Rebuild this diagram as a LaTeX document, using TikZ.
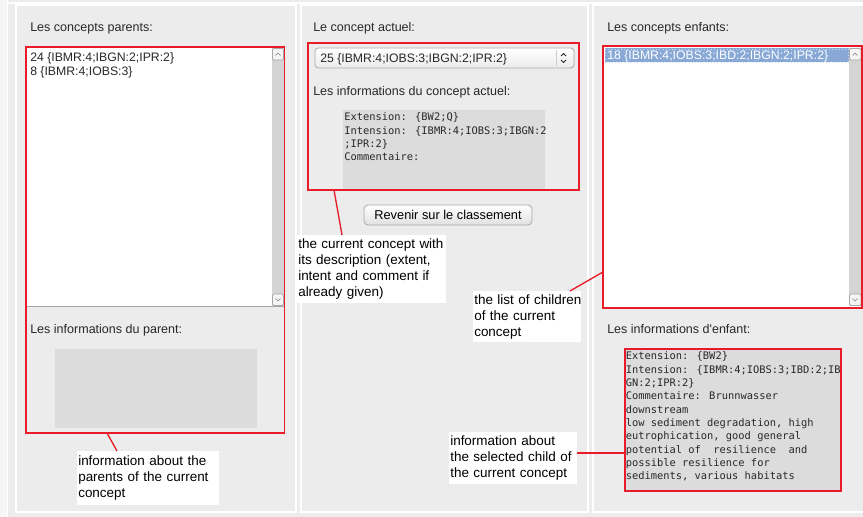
\documentclass[tikz,border=0pt]{standalone}
\usepackage{fontspec}
\setmainfont{Liberation Sans}
\newfontfamily\uimono{DejaVu Sans Mono}
\usetikzlibrary{positioning}

\definecolor{panelgray}{RGB}{236,236,236}
\definecolor{areagray}{RGB}{220,220,220}
\definecolor{trackgray}{RGB}{212,212,212}
\definecolor{markred}{RGB}{232,28,40}
\definecolor{selblue}{RGB}{136,168,214}
\definecolor{uitext}{RGB}{40,40,40}
\definecolor{frameborder}{RGB}{168,168,168}

\tikzset{
  redbox/.style = {draw = markred, line width = 1.2pt},
  callout/.style = {draw = markred, line width = 1pt},
  uilabel/.style = {anchor = base west, inner sep = 0pt, text = uitext,
    font = \fontsize{9.4}{11}\selectfont},
  listitem/.style = {anchor = base west, inner sep = 0pt, text = uitext,
    font = \fontsize{9.2}{11}\selectfont},
  monotext/.style = {anchor = north west, inner sep = 0pt, align = left,
    text = uitext, font = \uimono\fontsize{7.8}{10}\selectfont},
  note/.style = {fill = white, anchor = north west, inner xsep = 0.75pt,
    inner ysep = 0pt, align = left, text = black,
    font = \fontsize{10.1}{12}\selectfont},
  scrollbtn/.style = {draw = frameborder, fill = white!96!black,
    rounded corners = 1pt, line width = 0.5pt},
}
\newcommand{\noteline}[1]{\mbox{#1}}

\begin{document}
\begin{tikzpicture}[x = 0.75pt, y = -0.75pt]
    \useasboundingbox (0, 0) rectangle (863, 517);
    \fill[panelgray] (0, 0) rectangle (863, 517);
    \fill[white!50!panelgray] (0, 0) rectangle (7, 517);

    % frames of the three panels
    \begin{scope}[every path/.style = {draw = white, line width = 1.1pt}]
      \draw (7.5, 0) -- (7.5, 517);
      \draw (7.5, 3) -- (863, 3);
      \draw (16, 5) rectangle (296, 512);
      \draw (301, 5) rectangle (588, 512);
      \draw (593, 5) rectangle (880, 512);
    \end{scope}

    % parents
    \node[uilabel] (P0) at (30, 32) {Les concepts parents:};
    \fill[white] (27, 48) rectangle (284, 306);
    \draw[frameborder, line width = 0.6pt] (27, 306) -- (284, 306);
    \fill[trackgray] (272, 48) rectangle (283.5, 306);
    \draw[scrollbtn] (272.5, 48.5) rectangle (283.5, 60);
    \draw[scrollbtn] (272.5, 294) rectangle (283.5, 305.5);
    \draw[gray, line width = 0.5pt] (275.5, 55.5) -- (278, 53) -- (280.5, 55.5);
    \draw[gray, line width = 0.5pt] (275.5, 298.5) -- (278, 301) -- (280.5, 298.5);
    \node[listitem] (P1) at (30, 61) {24 \{IBMR:4;IBGN:2;IPR:2\}};
    \node[listitem] (P2) at (30, 75) {8 \{IBMR:4;IOBS:3\}};
    \node[uilabel] (P3) at (30, 333) {Les informations du parent:};
    \fill[areagray] (55, 349) rectangle (257, 428);
    \draw[redbox] (26, 47) rectangle (284.5, 433);

    % current concept
    \node[uilabel] (C0) at (313, 32) {Le concept actuel:};
    \draw[frameborder, top color = white, bottom color = white!92!black,
      rounded corners = 2.5pt, line width = 0.6pt] (315, 48) rectangle (574, 68);
    \draw[white!80!black, line width = 0.6pt] (556, 50) -- (556, 66);
    \draw[uitext, line width = 0.6pt] (561, 56) -- (563.5, 53.5) -- (566, 56);
    \draw[uitext, line width = 0.6pt] (561, 60) -- (563.5, 62.5) -- (566, 60);
    \node[listitem] (C1) at (320, 63) {25 \{IBMR:4;IOBS:3;IBGN:2;IPR:2\}};
    \node[uilabel] (C2) at (313, 95) {Les informations du concept actuel:};
    \fill[areagray] (343, 110) rectangle (545, 190);
    \node[monotext] (C3) at (344, 112.5) {Extension: \{BW2;Q\}\\
      Intension: \{IBMR:4;IOBS:3;IBGN:2\\
      ;IPR:2\}\\
      Commentaire:};
    \draw[redbox] (308, 43) rectangle (579, 190);
    \draw[frameborder, top color = white, bottom color = white!88!black,
      rounded corners = 3pt, line width = 0.6pt] (364, 205) rectangle (532, 225);
    \node[inner sep = 0pt, text = black, font = \fontsize{9.6}{11}\selectfont]
      (C4) at (448, 215) {Revenir sur le classement};

    % children
    \node[uilabel] (E0) at (607, 32) {Les concepts enfants:};
    \fill[white] (604, 47) rectangle (861, 307);
    \fill[trackgray] (849, 48) rectangle (861, 306);
    \draw[scrollbtn] (849.5, 48.5) rectangle (861, 60);
    \draw[scrollbtn] (849.5, 294) rectangle (861, 305.5);
    \draw[gray, line width = 0.5pt] (852.5, 55.5) -- (855, 53) -- (857.5, 55.5);
    \draw[gray, line width = 0.5pt] (852.5, 298.5) -- (855, 301) -- (857.5, 298.5);
    \fill[selblue] (605, 48.5) rectangle (849, 62.5);
    \draw[white!60!selblue, dotted, line width = 0.4pt] (605.5, 49) rectangle (848.5, 62);
    \node[listitem, text = white] (E1) at (607, 59.5)
      {18 \{IBMR:4;IOBS:3;IBD:2;IBGN:2;IPR:2\}};
    \draw[redbox] (603, 46) rectangle (862, 308);
    \node[uilabel] (E2) at (607, 333) {Les informations d\textquotesingle enfant:};
    \fill[areagray] (625, 349) rectangle (841, 491);
    \node[monotext] (E3) at (625.5, 351.5) {Extension: \{BW2\}\\
      Intension: \{IBMR:4;IOBS:3;IBD:2;IB\\
      GN:2;IPR:2\}\\
      Commentaire: Brunnwasser\\
      downstream\\
      low sediment degradation, high\\
      eutrophication, good general\\
      potential of~~resilience~~and\\
      possible resilience for\\
      sediments, various habitats};
    \draw[redbox] (625, 349) rectangle (841, 491);

    % notes
    \node[note, text width = 105pt, minimum height = 40.5pt] (N1) at (77, 451)
      {\noteline{information about the}\\ \noteline{parents of the current}\\
       \noteline{concept}};
    \node[note, text width = 110.25pt, minimum height = 51pt] (N2) at (297, 235)
      {\noteline{the current concept with}\\ \noteline{its description (extent,}\\
       \noteline{intent and comment if}\\ \noteline{already given)}};
    \node[note, text width = 79.5pt, minimum height = 38.25pt] (N3) at (473, 291)
      {\noteline{the list of children}\\ \noteline{of the current}\\
       \noteline{concept}};
    \node[note, text width = 94.5pt, minimum height = 39pt] (N4) at (449, 432)
      {\noteline{information about}\\ \noteline{the selected child of}\\
       \noteline{the current concept}};

    \coordinate (A1) at (107, 433);
    \coordinate (B1) at (117, 451);
    \coordinate (A2) at (334, 190);
    \coordinate (B2) at (342, 235);
    \coordinate (A3) at (603, 272);
    \coordinate (B3) at (570, 291);
    \coordinate (A4) at (625, 453);
    \coordinate (B4) at (577, 453);

    \draw[callout] (A1) -- (B1);
    \draw[callout] (A2) -- (B2);
    \draw[callout] (A3) -- (B3);
    \draw[callout] (A4) -- (B4);
  \end{tikzpicture}
\end{document}
